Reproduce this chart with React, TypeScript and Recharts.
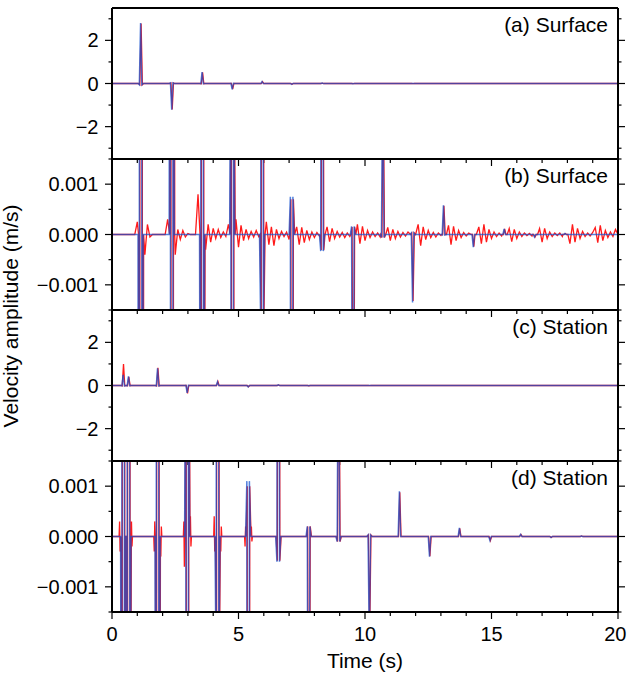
import { Line, LineChart, XAxis, YAxis } from "recharts";

const FONT = "'Liberation Sans', Arial, Helvetica, sans-serif";
const BLUE = "#1050d0";
const RED = "#ff1a1a";

// time axis
const xTicks = [0, 1, 2, 3, 4, 5, 6, 7, 8, 9, 10, 11, 12, 13, 14, 15, 16, 17, 18, 19, 20];
const xLabels = ["0", "", "", "", "", "5", "", "", "", "", "10", "", "", "", "", "15", "", "", "", "", "20"];

// amplitude axes
const bigDomain = [-3.5, 3.5];
const bigTicks = [-3, -2, -1, 0, 1, 2, 3];
const bigLabels = ["", "\u22122", "", "0", "", "2", ""];
const smallDomain = [-0.0015, 0.0015];
const smallTicks = [-0.0015, -0.001, -0.0005, 0, 0.0005, 0.001, 0.0015];
const smallLabels = ["", "\u22120.001", "", "0.000", "", "0.001", ""];

// surface record: arrival times (s), peak and side-lobe amplitudes (m/s)
const surfaceBlueTimes = [1.13, 2.36, 3.56, 4.75, 5.93, 7.1, 8.3, 9.52, 10.7, 11.88, 13.1, 14.28, 15.5, 16.7, 17.9];
const surfaceBlueAmp = [2.8, -1.22, 0.53, -0.27, 0.09, -0.04, 0.018, -0.0077, 0.0033, -0.00135, 0.00058, -0.00025, 0.00011, -0.00005, 0.00002];
const surfaceBlueLobe = [-0.06, 0.026, -0.011, 0.005, -0.0019, 0.00075, -0.00033, 0.00016, -0.00006, 0.00003, -0.00001, 0, 0, 0, 0];
const surfaceRedTimes = [1.15, 2.38, 3.58, 4.77, 5.95, 7.12, 8.32, 9.54, 10.72, 11.9, 13.12, 14.3, 15.52, 16.72, 17.92];
const surfaceRedAmp = [2.78, -1.2, 0.52, -0.26, 0.088, -0.038, 0.017, -0.0075, 0.0032, -0.00132, 0.00057, -0.00024, 0.00011, -0.00005, 0.00002];
const surfaceRedLobe = [-0.06, 0.026, -0.011, 0.005, -0.0019, 0.0007, -0.00031, 0.00015, -0.00006, 0.00003, 0, 0, 0, 0, 0];
// red noise in 1e-4 m/s, one value every 0.1 s starting at 0.9 s
const surfaceNoiseStart = 0.9;
const surfaceRedNoise = [
  0,
  2.5, 0, 0, -4, 2, -0.5, 0, 0, 0, 0,
  0, 0, 3, 0, 0, -4, 1, -1, 0.8, -0.5,
  0.2, 0, 0, 0, 8, 0, 0, -3, 2, -1.5,
  1.2, -0.8, 1, -0.6, 0.5, -0.4, 2, 0, 0, 3,
  -2.5, 1.8, -1.2, 1, -0.8, 0.6, -0.5, 0.8, -0.4, 0,
  0, 2.5, -2, 1.5, -2.2, 1, -0.8, 0.6, -0.4, 0.5,
  -1, 0, 0, 1.5, -2, 1.4, -1.6, 0.8, -1, 0.5,
  -0.6, 0.4, -0.3, 0, 0, 1.5, -1.4, 1.2, -0.8, 0.6,
  -0.5, 0.4, -0.6, 0.3, -0.4, 0, 0, 2, -1.8, 1.6,
  -1.2, 0.8, -0.6, 0.5, -0.4, 0.3, -0.5, 0, 0, 1.4,
  -1.2, 1, -0.8, 0.6, -0.5, 0.4, -0.3, 0.5, 0, 0,
  0, 2, -2.2, 1.5, -1, 0.8, -0.6, 0.4, -0.5, 0.3,
  -0.2, 0, 0, 1.8, -2, 1.6, -1.2, 0.8, -0.6, 0.4,
  -0.3, 0.3, 0, 0, 0, 1.5, -1.8, 2, -1.5, 1,
  -0.8, 0.5, -0.4, 0.3, -0.3, 0, 0, 1.2, -1.4, 1,
  -0.8, 0.5, -0.4, 0.3, -0.2, 0.2, -0.3, 0, 0, 1.2,
  -1.5, 1.2, -0.8, 0.5, -0.4, 0.3, -0.2, 0.3, -0.4, 0,
  1.5, -1.8, 2, -1.5, 1.2, -0.8, 0.6, -0.4, 0.3, -0.3,
  0.4, 1.4, -1.6, 1.8, -1.2, 0.8, -0.6, 0.5, -0.4, 1,
  -1.5,
];

// station record
const stationBlueTimes = [0.44, 0.65, 1.8, 2.97, 4.17, 5.38, 6.57, 7.77, 8.95, 10.17, 11.36, 12.55, 13.73, 14.94, 16.15, 17.35, 18.55];
const stationBlueAmp = [0.5, 0.42, 0.8, -0.34, 0.17, -0.065, 0.028, -0.012, 0.005, -0.0021, 0.0009, -0.0004, 0.00017, -0.00008, 0.00004, -0.00002, 0.00001];
const stationBlueLobe = [-0.012, -0.01, -0.015, 0.006, -0.003, 0.0011, -0.0005, 0.0002, -0.0001, 0.00003, 0, 0, 0, 0, 0, 0, 0];
const stationRedTimes = [0.455, 0.665, 1.815, 2.985, 4.185, 5.395, 6.585, 7.785, 8.965, 10.185, 11.375, 12.565, 13.745, 14.955, 16.165, 17.365, 18.565];
const stationRedAmp = [1.0, 0.4, 0.82, -0.37, 0.19, -0.06, 0.027, -0.0115, 0.0048, -0.002, 0.00088, -0.00039, 0.00016, -0.00008, 0.00004, -0.00002, 0.00001];
const stationRedLobe = [-0.02, -0.01, -0.015, 0.006, -0.003, 0.001, -0.00048, 0.0002, -0.0001, 0.00003, 0, 0, 0, 0, 0, 0, 0];
const stationRedRing: [number, number][] = [
  [0.28, 0], [0.3, 0.0003], [0.32, -0.0003],
  [0.77, 0.0003], [0.79, -0.0002], [0.81, 0],
  [1.65, 0], [1.67, -0.0003], [1.69, 0.0003],
  [1.93, -0.0004], [1.95, 0.0002], [1.97, 0],
  [2.82, 0], [2.84, 0.0003], [2.86, -0.0006],
  [3.1, 0.0004], [3.12, -0.0002], [3.14, 0],
  [4.02, 0], [4.04, 0.0004], [4.06, -0.0003],
  [4.3, -0.0003], [4.32, 0.0002], [4.34, 0],
  [5.24, 0], [5.26, -0.0002], [5.28, 0.0002],
  [5.51, 0.0002], [5.53, -0.0001], [5.55, 0],
];

type Pt = { t: number; v: number };

function trace(times: number[], amps: number[], lobes: number[], extra: Pt[] = []): Pt[] {
  const pts: Pt[] = [{ t: 0, v: 0 }, { t: 20, v: 0 }, ...extra];
  times.forEach((t, i) => {
    pts.push(
      { t: t - 0.1, v: 0 },
      { t: t - 0.05, v: lobes[i] },
      { t, v: amps[i] },
      { t: t + 0.05, v: lobes[i] },
      { t: t + 0.1, v: 0 }
    );
  });
  return pts.sort((a, b) => a.t - b.t);
}

const surfaceNoisePts: Pt[] = surfaceRedNoise
  .map((n, i) => ({ t: Math.round((surfaceNoiseStart + i * 0.1) * 100) / 100, v: n * 1e-4 }))
  .filter((p) => p.t < 20 && surfaceRedTimes.every((T) => Math.abs(p.t - T) > 0.11));

const surfaceBlue = trace(surfaceBlueTimes, surfaceBlueAmp, surfaceBlueLobe);
const surfaceRed = trace(surfaceRedTimes, surfaceRedAmp, surfaceRedLobe, surfaceNoisePts);
const stationBlue = trace(stationBlueTimes, stationBlueAmp, stationBlueLobe);
const stationRed = trace(stationRedTimes, stationRedAmp, stationRedLobe, stationRedRing.map(([t, v]) => ({ t, v })));

function XTick(props: any) {
  const { x, y, payload, side, labelled } = props;
  const i = xTicks.indexOf(payload.value);
  const major = xLabels[i] !== "";
  const len = major ? 7 : 4;
  const dir = side === "top" ? -1 : 1;
  const isLast = i === xTicks.length - 1;
  return (
    <g>
      <line x1={x} x2={x} y1={y} y2={y + dir * len} stroke="#000" strokeWidth={1.2} />
      {labelled && major && (
        <text
          x={isLast ? x + 8.5 : x}
          y={y + 29}
          textAnchor={isLast ? "end" : "middle"}
          fontSize={20}
          fontFamily={FONT}
          fill="#000"
        >
          {xLabels[i]}
        </text>
      )}
    </g>
  );
}

function YTick(props: any) {
  const { x, y, payload, side, ticks, labels } = props;
  const i = ticks.indexOf(payload.value);
  const major = labels[i] !== "";
  const len = major ? 7 : 3.5;
  const dir = side === "left" ? -1 : 1;
  return (
    <g>
      <line x1={x} x2={x + dir * len} y1={y} y2={y} stroke="#000" strokeWidth={1.2} />
      {side === "left" && major && (
        <text x={x - 13.5} y={y + 7} textAnchor="end" fontSize={20} fontFamily={FONT} fill="#000">
          {labels[i]}
        </text>
      )}
    </g>
  );
}

type PanelProps = {
  top: number;
  blue: Pt[];
  red: Pt[];
  domain: number[];
  ticks: number[];
  labels: string[];
  last?: boolean;
};

function Panel({ top, blue, red, domain, ticks, labels, last }: PanelProps) {
  const bottomH = last ? 60 : 10;
  return (
    <div style={{ position: "absolute", left: 0, top: top - 10 }}>
      <LineChart width={627} height={10 + 151 + bottomH} margin={{ top: 0, right: 0, bottom: 0, left: 0 }}>
        <XAxis
          xAxisId="b"
          dataKey="t"
          type="number"
          domain={[0, 20]}
          ticks={xTicks}
          interval={0}
          height={bottomH}
          tickSize={0}
          tickMargin={0}
          tickLine={false}
          axisLine={{ stroke: "#000", strokeWidth: 2 }}
          tick={(p: any) => <XTick {...p} side="bottom" labelled={last} />}
        />
        <XAxis
          xAxisId="t"
          orientation="top"
          dataKey="t"
          type="number"
          domain={[0, 20]}
          ticks={xTicks}
          interval={0}
          height={10}
          tickSize={0}
          tickMargin={0}
          tickLine={false}
          axisLine={{ stroke: "#000", strokeWidth: 2 }}
          tick={(p: any) => <XTick {...p} side="top" />}
        />
        <YAxis
          yAxisId="l"
          type="number"
          domain={domain}
          allowDataOverflow
          ticks={ticks}
          interval={0}
          width={112}
          tickSize={0}
          tickMargin={0}
          tickLine={false}
          axisLine={{ stroke: "#000", strokeWidth: 2 }}
          tick={(p: any) => <YTick {...p} side="left" ticks={ticks} labels={labels} />}
        />
        <YAxis
          yAxisId="r"
          orientation="right"
          type="number"
          domain={domain}
          allowDataOverflow
          ticks={ticks}
          interval={0}
          width={9}
          tickSize={0}
          tickMargin={0}
          tickLine={false}
          axisLine={{ stroke: "#000", strokeWidth: 2 }}
          tick={(p: any) => <YTick {...p} side="right" ticks={ticks} labels={labels} />}
        />
        <Line
          xAxisId="b"
          yAxisId="l"
          data={red}
          dataKey="v"
          type="linear"
          dot={false}
          stroke={RED}
          strokeWidth={1.3}
          isAnimationActive={false}
        />
        <Line
          xAxisId="b"
          yAxisId="l"
          data={blue}
          dataKey="v"
          type="linear"
          dot={false}
          stroke={BLUE}
          strokeOpacity={0.72}
          strokeWidth={1.5}
          isAnimationActive={false}
        />
      </LineChart>
    </div>
  );
}

export default function App() {
  const tops = [8, 159, 310, 461];
  const names = ["(a) Surface", "(b) Surface", "(c) Station", "(d) Station"];
  return (
    <div style={{ position: "absolute", left: 0, top: 0, width: 627, height: 674, background: "#fff", overflow: "hidden" }}>
      <Panel top={tops[0]} blue={surfaceBlue} red={surfaceRed} domain={bigDomain} ticks={bigTicks} labels={bigLabels} />
      <Panel top={tops[1]} blue={surfaceBlue} red={surfaceRed} domain={smallDomain} ticks={smallTicks} labels={smallLabels} />
      <Panel top={tops[2]} blue={stationBlue} red={stationRed} domain={bigDomain} ticks={bigTicks} labels={bigLabels} />
      <Panel top={tops[3]} blue={stationBlue} red={stationRed} domain={smallDomain} ticks={smallTicks} labels={smallLabels} last />
      <svg width={627} height={674} style={{ position: "absolute", left: 0, top: 0, pointerEvents: "none" }}>
        {names.map((n, i) => (
          <text key={n} x={608} y={tops[i] + 24} textAnchor="end" fontSize={21} fontFamily={FONT} fill="#000">
            {n}
          </text>
        ))}
        <text x={365} y={668} textAnchor="middle" fontSize={21} fontFamily={FONT} fill="#000">
          Time (s)
        </text>
        <text
          x={18}
          y={316}
          transform="rotate(-90 18 316)"
          textAnchor="middle"
          fontSize={21}
          fontFamily={FONT}
          fill="#000"
        >
          Velocity amplitude (m/s)
        </text>
      </svg>
    </div>
  );
}
